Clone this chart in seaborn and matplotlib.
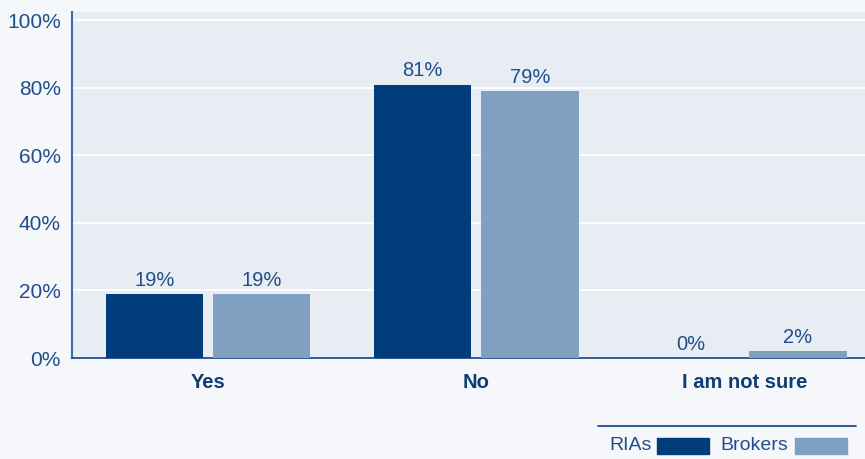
import matplotlib
matplotlib.use("Agg")
import matplotlib.pyplot as plt
import seaborn as sns
import pandas as pd
from matplotlib.patches import Rectangle
from matplotlib.lines import Line2D

categories = ["Yes", "No", "I am not sure"]
series_names = ["RIAs", "Brokers"]
rias = [19, 81, 0]
brokers = [19, 79, 2]
yticks = [0, 20, 40, 60, 80, 100]

dark = "#003d7a"
light = "#7fa0c0"
txt = "#1f4e8c"
fig_bg = "#f5f7fb"
ax_bg = "#e8ecf3"

df = pd.DataFrame({
    "category": categories * 2,
    "group": [series_names[0]] * 3 + [series_names[1]] * 3,
    "value": rias + brokers,
})

sns.set_theme(style="white")
plt.rcParams["font.family"] = ["Liberation Sans", "DejaVu Sans"]

fig = plt.figure(figsize=(8.65, 4.59), dpi=100, facecolor=fig_bg)
ax = fig.add_axes([72 / 865, 1 - 358 / 459, 1 - 72 / 865, (358 - 12) / 459])
ax.set_facecolor(ax_bg)

sns.barplot(data=df, x="category", y="value", hue="group", order=categories,
            hue_order=series_names, palette=[dark, light], width=0.8, gap=0.09,
            saturation=1, ax=ax, legend=False, zorder=3, linewidth=0,
            edgecolor="none")

ax.set_xlim(-0.507, 2.45)
ax.set_ylim(0, 102.5)
ax.set_yticks(yticks)
ax.set_yticklabels([f"{v}%" for v in yticks], color=txt, fontsize=15)
ax.yaxis.grid(True, color="white", linewidth=1.3, zorder=0)
ax.set_axisbelow(True)
ax.tick_params(axis="y", length=0, pad=8)
ax.tick_params(axis="x", length=0, pad=11)
for lab in ax.get_xticklabels():
    lab.set_fontweight("bold")
    lab.set_color("#0f3d73")
    lab.set_fontsize(14.5)
ax.set_xlabel("")
ax.set_ylabel("")

for s in ["top", "right"]:
    ax.spines[s].set_visible(False)
ax.spines["left"].set_color("#3a6ea5")
ax.spines["left"].set_linewidth(1.5)
ax.spines["bottom"].set_color("#1f4e8c")
ax.spines["bottom"].set_linewidth(1.3)

for cont in ax.containers:
    ax.bar_label(cont, labels=[f"{v:.0f}%" for v in cont.datavalues],
                 padding=3, color=txt, fontsize=14.5)

# legend
fig.add_artist(Line2D([598 / 865, 856 / 865], [1 - 426 / 459] * 2,
                      color="#1f4e8c", linewidth=1.3, transform=fig.transFigure))
ypatch = 1 - 454 / 459
hpatch = 16 / 459
fig.text(609 / 865, 1 - 446 / 459, series_names[0], color=txt, fontsize=14, va="center")
fig.add_artist(Rectangle((657 / 865, ypatch), 52 / 865, hpatch, color=dark,
                         transform=fig.transFigure))
fig.text(720 / 865, 1 - 446 / 459, series_names[1], color=txt, fontsize=14, va="center")
fig.add_artist(Rectangle((795 / 865, ypatch), 52 / 865, hpatch, color=light,
                         transform=fig.transFigure))

fig.savefig("out.png", dpi=100, facecolor=fig_bg)
